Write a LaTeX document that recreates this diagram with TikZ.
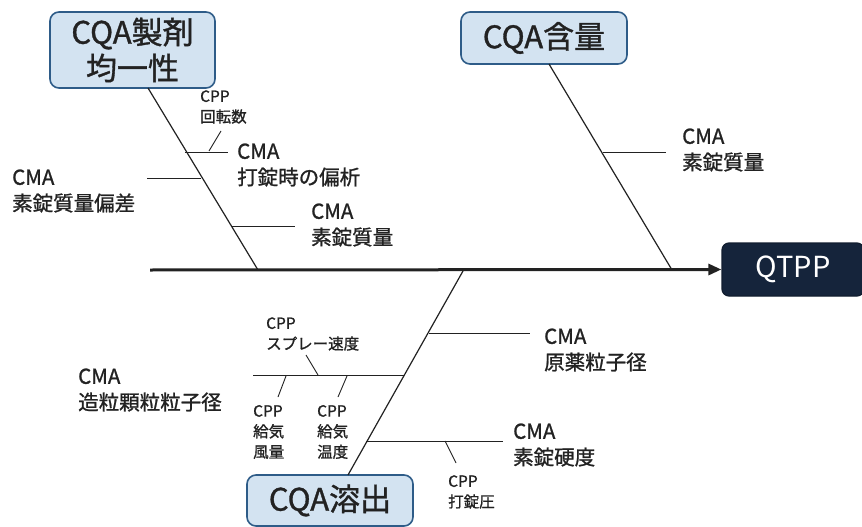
\documentclass[tikz,border=0pt]{standalone}
\usepackage{fontspec}
\setmainfont{Noto Sans CJK JP}
\newfontfamily\medfont{Noto Sans CJK JP}[FakeBold=1.1]
\usetikzlibrary{arrows.meta}
\definecolor{cqafill}{HTML}{D3E3F1}
\definecolor{cqaline}{HTML}{2E5C88}
\definecolor{qtfill}{HTML}{15243B}
\definecolor{ink}{HTML}{222222}
\begin{document}
\begin{tikzpicture}[x=1pt,y=-1pt,
  cqa/.style={draw=cqaline, fill=cqafill, line width=1.6pt, rounded corners=9pt,
    inner sep=0pt, align=center, text=ink, font=\medfont\fontsize{31}{36}\selectfont},
  qtbox/.style={draw=qtfill!80!black, fill=qtfill, line width=1.2pt, rounded corners=7pt,
    inner sep=0pt, text=white, font=\fontsize{29}{34}\selectfont},
  bone/.style={draw=ink, line width=1.2pt},
  twig/.style={draw=ink, line width=0.9pt},
  spine/.style={draw=ink, line width=3pt, -{Triangle[length=13pt,width=11pt]}},
  cma/.style={anchor=west, inner sep=0pt, align=left, text=ink, font=\medfont\fontsize{20.5}{26}\selectfont},
  cpp/.style={anchor=west, inner sep=0pt, align=left, text=ink, font=\medfont\fontsize{15.5}{20.5}\selectfont},
]
\useasboundingbox (0,0) rectangle (862,527);
\fill[white] (0,0) rectangle (862,527);

% heads
\node[cqa, minimum width=165pt, minimum height=76pt] (cqa1) at (132.5,50) {CQA製剤\\均一性};
\node[cqa, minimum width=166pt, minimum height=52pt] (cqa2) at (544,38) {CQA含量};
\node[cqa, minimum width=166pt, minimum height=51pt] (cqa3) at (330,500.5) {CQA溶出};
\node[qtbox, minimum width=142pt, minimum height=53pt] (qtpp) at (793,269.5) {QTPP};

% spine
\coordinate (s0) at (150,270);
\draw[spine] (s0) -- (qtpp.west);

% bones
\coordinate (b1a) at (148,88);   \coordinate (b1b) at (258,270);
\coordinate (b2a) at (549,64);   \coordinate (b2b) at (672,270);
\coordinate (b3a) at (463,271);  \coordinate (b3b) at (348,475);
\draw[bone] (b1a) -- (b1b);
\draw[bone] (b2a) -- (b2b);
\draw[bone] (b3a) -- (b3b);

% upper-left branches
\coordinate (u1a) at (185,152); \coordinate (u1b) at (228,152);
\draw[twig] (u1a) -- (u1b);
\coordinate (t1a) at (209,151); \coordinate (t1b) at (221,131);
\draw[twig] (t1a) -- (t1b);
\coordinate (u2a) at (147,178); \coordinate (u2b) at (201,178);
\draw[twig] (u2a) -- (u2b);
\coordinate (u3a) at (232,226); \coordinate (u3b) at (295,226);
\draw[twig] (u3a) -- (u3b);

% upper-right branch
\coordinate (r1a) at (603,152); \coordinate (r1b) at (666,152);
\draw[twig] (r1a) -- (r1b);

% lower branches
\coordinate (l1a) at (429,333); \coordinate (l1b) at (530,333);
\draw[twig] (l1a) -- (l1b);
\coordinate (l2a) at (253,375); \coordinate (l2b) at (404,375);
\draw[twig] (l2a) -- (l2b);
\coordinate (t2a) at (318,375); \coordinate (t2b) at (306,355);
\draw[twig] (t2a) -- (t2b);
\coordinate (t3a) at (286,376); \coordinate (t3b) at (278,397);
\draw[twig] (t3a) -- (t3b);
\coordinate (t4a) at (347,376); \coordinate (t4b) at (338,397);
\draw[twig] (t4a) -- (t4b);
\coordinate (l3a) at (366,441); \coordinate (l3b) at (503,441);
\draw[twig] (l3a) -- (l3b);
\coordinate (t5a) at (445,441); \coordinate (t5b) at (456,463);
\draw[twig] (t5a) -- (t5b);

% CMA labels
\node[cma] (c1) at (237,165) {CMA\\打錠時の偏析};
\node[cma] (c2) at (12,191) {CMA\\素錠質量偏差};
\node[cma] (c3) at (311,225) {CMA\\素錠質量};
\node[cma] (c4) at (682,150) {CMA\\素錠質量};
\node[cma] (c5) at (544,350) {CMA\\原薬粒子径};
\node[cma] (c6) at (78,390) {CMA\\造粒顆粒粒子径};
\node[cma] (c7) at (513,445) {CMA\\素錠硬度};

% CPP labels
\node[cpp] (p1) at (200,107) {CPP\\回転数};
\node[cpp] (p2) at (266,334) {CPP\\スプレー速度};
\node[cpp] (p3) at (253,432) {CPP\\給気\\風量};
\node[cpp] (p4) at (317,432) {CPP\\給気\\温度};
\node[cpp] (p5) at (448,492) {CPP\\打錠圧};
\end{tikzpicture}
\end{document}
